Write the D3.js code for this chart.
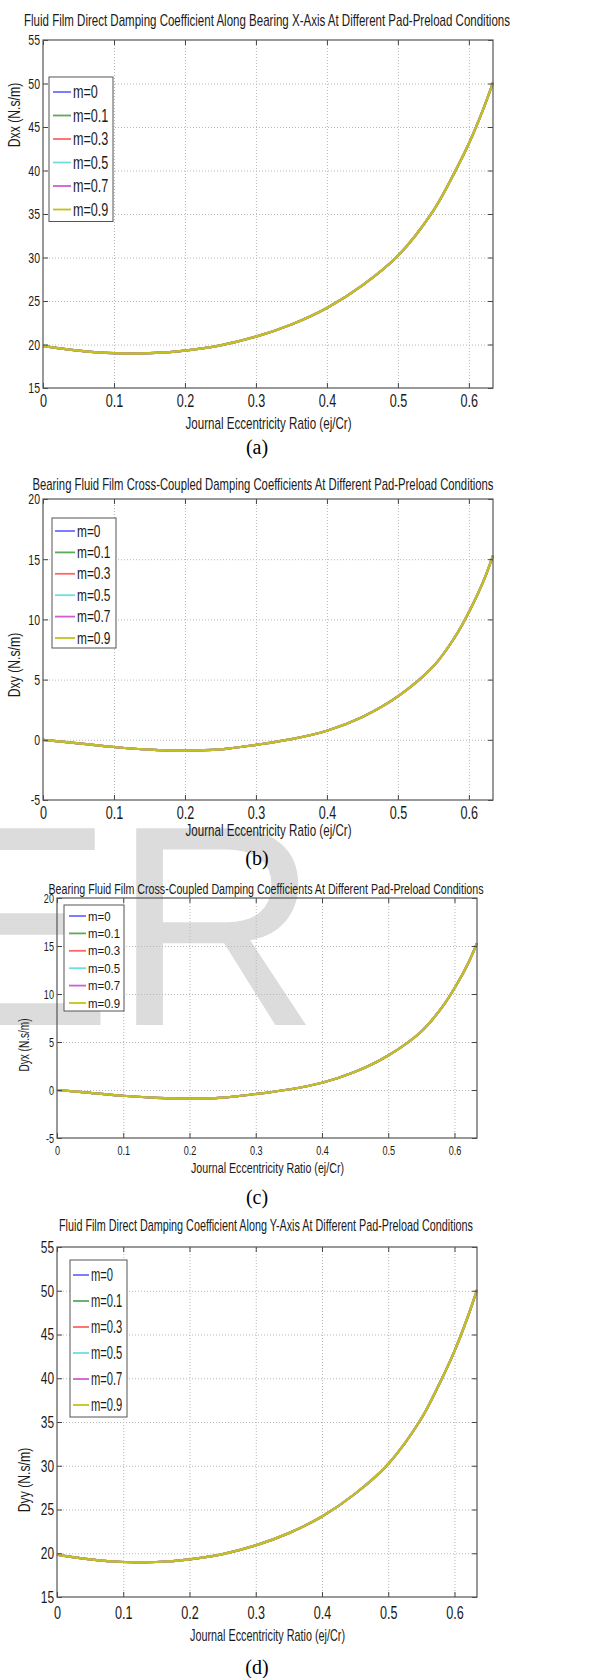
<!DOCTYPE html>
<html>
<head>
<meta charset="utf-8">
<script src="https://cdn.jsdelivr.net/npm/d3@7"></script>
<style>
  html, body { margin: 0; padding: 0; background: #fff; }
  svg { display: block; }
  text { font-family: "Liberation Sans", Arial, sans-serif; fill: #1a1a1a; }
  .caption { font-family: "Liberation Serif", "Times New Roman", serif; fill: #000; }
  .grid line { stroke: #b8b8b8; stroke-dasharray: 1,2; }
  .grid path, .ticks path { display: none; }
  .ticks line { stroke: #444; }
</style>
</head>
<body>
<svg id="chart" width="593" height="1678"></svg>
<script>
// Sample points along the journal eccentricity ratio
const eccentricity = [0, 0.05, 0.1, 0.15, 0.2, 0.25, 0.3, 0.35, 0.4, 0.45, 0.5, 0.55, 0.58, 0.6, 0.62, 0.634];

// Damping coefficients (N.s/m); every pad preload gives the same curve
const dxx = [19.85, 19.3, 19.0, 19.0, 19.3, 19.9, 20.9, 22.3, 24.2, 26.8, 30.2, 35.4, 39.8, 43.1, 47.0, 50.1];
const dxy = [0, -0.3, -0.6, -0.82, -0.9, -0.8, -0.42, 0.05, 0.75, 1.9, 3.6, 6.1, 8.5, 10.6, 13.1, 15.3];
const dyx = [0, -0.3, -0.6, -0.82, -0.9, -0.8, -0.42, 0.05, 0.75, 1.9, 3.6, 6.1, 8.5, 10.6, 13.1, 15.3];
const dyy = [19.85, 19.3, 19.0, 19.0, 19.3, 19.9, 20.9, 22.3, 24.2, 26.8, 30.2, 35.4, 39.8, 43.1, 47.0, 50.1];

const preloads = ['m=0', 'm=0.1', 'm=0.3', 'm=0.5', 'm=0.7', 'm=0.9'];
const preloadColors = ['#6f6fff', '#5aab5a', '#ff6666', '#6fdede', '#cf5fcf', '#c2c21a'];

const xTicks = [0, 0.1, 0.2, 0.3, 0.4, 0.5, 0.6];
const directTicks = [15, 20, 25, 30, 35, 40, 45, 50, 55];
const crossTicks = [-5, 0, 5, 10, 15, 20];

const titles = [
    'Fluid Film Direct Damping Coefficient Along Bearing X-Axis At Different Pad-Preload Conditions',
    'Bearing Fluid Film Cross-Coupled Damping Coefficients At Different Pad-Preload Conditions',
    'Bearing Fluid Film Cross-Coupled Damping Coefficients At Different Pad-Preload Conditions',
    'Fluid Film Direct Damping Coefficient Along Y-Axis At Different Pad-Preload Conditions'
];
const yLabels = ['Dxx (N.s/m)', 'Dxy (N.s/m)', 'Dyx (N.s/m)', 'Dyy (N.s/m)'];
const captions = ['(a)', '(b)', '(c)', '(d)'];
const xLabel = 'Journal Eccentricity Ratio (ej/Cr)';

// Layout of the four stacked panels
const PANELS = [
    { values: dxx, yTicks: directTicks, left: 43, right: 493, top: 40, bottom: 388,
      font: 17, xTickFont: 18, yTickFont: 15,
      titleX: 267, titleY: 20, titleW: 486, tickY: 401, xLabelY: 423, xLabelW: 166, capY: 447,
      yLabelX: 14, yLabelY: 115,
      legend: { x: 49, y: 77, w: 64, first: 15, step: 23.5, pad: 4, line: 18, font: 18, k: 0.7 } },
    { values: dxy, yTicks: crossTicks, left: 43, right: 493, top: 499, bottom: 800,
      font: 17, xTickFont: 18, yTickFont: 15,
      titleX: 263, titleY: 484, titleW: 461, tickY: 813, xLabelY: 830, xLabelW: 166, capY: 858,
      yLabelX: 14, yLabelY: 665,
      legend: { x: 52, y: 518, w: 64, first: 13, step: 21.4, pad: 3, line: 20, font: 17, k: 0.7 } },
    { values: dyx, yTicks: crossTicks, left: 57, right: 477, top: 898, bottom: 1138,
      font: 14, xTickFont: 13, yTickFont: 13,
      titleX: 266, titleY: 889, titleW: 435, tickY: 1150, xLabelY: 1168, xLabelW: 153, capY: 1197,
      yLabelX: 24, yLabelY: 1045,
      legend: { x: 64, y: 905, w: 60, first: 11, step: 17.4, pad: 5, line: 17, font: 13, k: 0.88 } },
    { values: dyy, yTicks: directTicks, left: 57, right: 477, top: 1247, bottom: 1597,
      font: 17, xTickFont: 18, yTickFont: 17,
      titleX: 266, titleY: 1225, titleW: 414, tickY: 1613, xLabelY: 1635, xLabelW: 155, capY: 1667,
      yLabelX: 24, yLabelY: 1480,
      legend: { x: 70, y: 1260, w: 57, first: 15, step: 26, pad: 3, line: 16, font: 18, k: 0.62 } }
];

const svg = d3.select('#chart');

/**
 * Squeeze text horizontally (the original figure is stretched vertically)
 */
function squeeze(sel, k) {
    sel.each(function() {
        const w = this.getComputedTextLength();
        d3.select(this).attr('textLength', w * k).attr('lengthAdjust', 'spacingAndGlyphs');
    });
}

// Journal watermark sitting behind panel (c)
svg.append('text')
    .attr('x', -78)
    .attr('y', 1025)
    .style('font-size', '286px')
    .style('fill', '#dcdcdc')
    .text('ER');

PANELS.forEach((p, i) => {
    const x = d3.scaleLinear().domain([0, 0.634]).range([p.left, p.right]);
    const y = d3.scaleLinear()
        .domain([p.yTicks[0], p.yTicks[p.yTicks.length - 1]])
        .range([p.bottom, p.top]);
    const w = p.right - p.left;
    const h = p.bottom - p.top;
    const g = svg.append('g');

    // dotted grid
    g.append('g').attr('class', 'grid')
        .attr('transform', `translate(0,${p.bottom})`)
        .call(d3.axisBottom(x).tickValues(xTicks.slice(1)).tickSize(-h).tickFormat(''));
    g.append('g').attr('class', 'grid')
        .attr('transform', `translate(${p.left},0)`)
        .call(d3.axisLeft(y).tickValues(p.yTicks.slice(1, -1)).tickSize(-w).tickFormat(''));

    // curves, one per preload (they coincide, m=0.9 ends on top)
    const line = d3.line()
        .x((d, k) => x(eccentricity[k]))
        .y(d => y(d))
        .curve(d3.curveCatmullRom.alpha(0.5));
    preloads.forEach((m, k) => {
        g.append('path')
            .attr('d', line(p.values))
            .attr('fill', 'none')
            .attr('stroke', preloadColors[k])
            .attr('stroke-width', 2.2);
    });

    // inward ticks on all four sides
    const bottomAxis = g.append('g').attr('class', 'ticks')
        .attr('transform', `translate(0,${p.bottom})`)
        .call(d3.axisBottom(x).tickValues(xTicks).tickSize(-5).tickPadding(0).tickFormat(d => d));
    g.append('g').attr('class', 'ticks')
        .attr('transform', `translate(0,${p.top})`)
        .call(d3.axisTop(x).tickValues(xTicks).tickSize(-5).tickFormat(''));
    const leftAxis = g.append('g').attr('class', 'ticks')
        .attr('transform', `translate(${p.left},0)`)
        .call(d3.axisLeft(y).tickValues(p.yTicks).tickSize(-5).tickFormat(d => d));
    g.append('g').attr('class', 'ticks')
        .attr('transform', `translate(${p.right},0)`)
        .call(d3.axisRight(y).tickValues(p.yTicks).tickSize(-5).tickFormat(''));

    bottomAxis.selectAll('text')
        .attr('y', p.tickY - p.bottom)
        .attr('dy', null)
        .attr('dominant-baseline', 'central')
        .attr('fill', '#1a1a1a')
        .style('font-size', p.xTickFont + 'px')
        .style('font-family', '"Liberation Sans", Arial, sans-serif')
        .call(squeeze, 0.7);
    leftAxis.selectAll('text')
        .attr('x', -3)
        .attr('fill', '#1a1a1a')
        .style('font-size', p.yTickFont + 'px')
        .style('font-family', '"Liberation Sans", Arial, sans-serif')
        .call(squeeze, 0.7);

    // axes box
    g.append('rect')
        .attr('x', p.left).attr('y', p.top)
        .attr('width', w).attr('height', h)
        .attr('fill', 'none')
        .attr('stroke', '#555')
        .attr('stroke-width', 1.2);

    // title, axis labels and caption
    g.append('text')
        .attr('x', p.titleX).attr('y', p.titleY)
        .attr('text-anchor', 'middle').attr('dominant-baseline', 'central')
        .attr('textLength', p.titleW).attr('lengthAdjust', 'spacingAndGlyphs')
        .style('font-size', p.font + 'px')
        .text(titles[i]);
    g.append('text')
        .attr('x', (p.left + p.right) / 2 + 0.5).attr('y', p.xLabelY)
        .attr('text-anchor', 'middle').attr('dominant-baseline', 'central')
        .attr('textLength', p.xLabelW).attr('lengthAdjust', 'spacingAndGlyphs')
        .style('font-size', p.font + 'px')
        .text(xLabel);
    g.append('text')
        .attr('transform', `translate(${p.yLabelX},${p.yLabelY}) rotate(-90)`)
        .attr('text-anchor', 'middle').attr('dominant-baseline', 'central')
        .style('font-size', p.font + 'px')
        .text(yLabels[i])
        .call(squeeze, 0.72);
    g.append('text')
        .attr('class', 'caption')
        .attr('x', 257).attr('y', p.capY)
        .attr('text-anchor', 'middle').attr('dominant-baseline', 'central')
        .style('font-size', '20px')
        .text(captions[i]);

    // legend
    const L = p.legend;
    const lg = g.append('g').attr('transform', `translate(${L.x},${L.y})`);
    lg.append('rect')
        .attr('width', L.w)
        .attr('height', L.first * 2 + L.step * (preloads.length - 1) - 3)
        .attr('fill', '#fff')
        .attr('stroke', '#555')
        .attr('stroke-width', 1);
    preloads.forEach((m, k) => {
        const yy = L.first + k * L.step;
        lg.append('line')
            .attr('x1', L.pad).attr('x2', L.pad + L.line)
            .attr('y1', yy).attr('y2', yy)
            .attr('stroke', preloadColors[k])
            .attr('stroke-width', 1.8);
        lg.append('text')
            .attr('x', L.pad + L.line + 2).attr('y', yy)
            .attr('dominant-baseline', 'central')
            .style('font-size', L.font + 'px')
            .text(m)
            .call(squeeze, L.k);
    });
});
</script>
</body>
</html>
